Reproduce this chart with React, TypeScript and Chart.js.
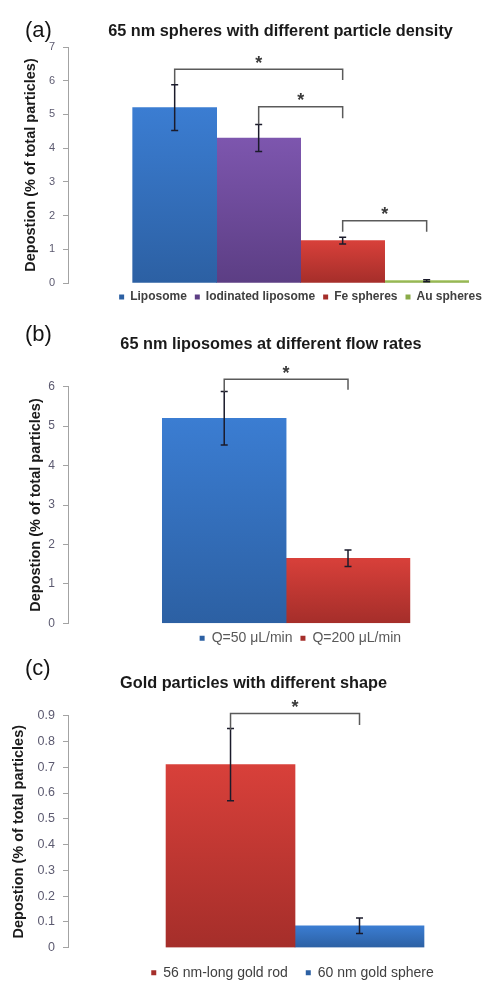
import React, { useEffect, useRef } from 'react';
import { Chart, registerables } from 'chart.js';

Chart.register(...registerables);
Chart.defaults.font.family = "'Liberation Sans', Arial, sans-serif";

// ---------- Panel (a) data ----------
const aLabels = ['Liposome', 'Iodinated liposome', 'Fe spheres', 'Au spheres'];
const aValues = [5.2, 4.3, 1.26, 0.07];
const aErrors = [0.68, 0.4, 0.1, 0.03];
// [fromBar, toBar, bracketTop, leftEnd, rightEnd]
const aBrackets = [
  [0, 2, 6.34, 5.9, 6.02],
  [1, 2, 5.23, 4.71, 4.89],
  [2, 3, 1.85, 1.52, 1.52],
];
const aYMax = 7;
const aYStep = 1;

// ---------- Panel (b) data ----------
const bLabels = ['Q=50 μL/min', 'Q=200 μL/min'];
const bValues = [5.2, 1.65];
const bErrors = [0.68, 0.21];
const bBrackets = [[0, 1, 6.19, 5.87, 5.92]];
const bYMax = 6;
const bYStep = 1;

// ---------- Panel (c) data ----------
const cLabels = ['56 nm-long gold rod', '60 nm gold sphere'];
const cValues = [0.71, 0.085];
const cErrors = [0.14, 0.03];
const cBrackets = [[0, 1, 0.909, 0.845, 0.864]];
const cYMax = 0.9;
const cYStep = 0.1;

const yAxisTitle = 'Depostion (% of total particles)';

// colours: [top, bottom, legend]
const BLUE = ['#3b7dd2', '#2c60a3', '#3a70c0'];
const PURPLE = ['#7d56ae', '#5c3e84', '#6e4a9c'];
const RED = ['#d8403a', '#a52e2a', '#c83a35'];
const GREEN = ['#9fc05a', '#8aab48', '#9bbb59'];

const CANVAS_W = 540;

const PANELS: any[] = [
  {
    tag: '(a)', title: '65 nm spheres with different particle density',
    labels: aLabels, values: aValues, errors: aErrors, brackets: aBrackets,
    yMax: aYMax, yStep: aYStep, colors: [BLUE, PURPLE, RED, GREEN],
    top: 0, height: 313, padTop: 47, padBottom: 0, padRight: 7,
    xMin: -1.27, xMax: 4.266,
    titleX: 280.5, titleY: 32, tagY: 31,
    tickSize: 11, legendFont: { size: 12, weight: 'bold' }, legendColor: '#404040', legendPad: 8,
    yTitlePad: 22.3,
  },
  {
    tag: '(b)', title: '65 nm liposomes at different flow rates',
    labels: bLabels, values: bValues, errors: bErrors, brackets: bBrackets,
    yMax: bYMax, yStep: bYStep, colors: [BLUE, RED],
    top: 313, height: 343, padTop: 73.7, padBottom: 0.7, padRight: 7.3,
    xMin: -1.262, xMax: 2.492,
    titleX: 271, titleY: 32, tagY: 22,
    tickSize: 12, legendFont: { size: 14, weight: 'normal' }, legendColor: '#595959', legendPad: 8,
    yTitlePad: 27.3,
  },
  {
    tag: '(c)', title: 'Gold particles with different shape',
    labels: cLabels, values: cValues, errors: cErrors, brackets: cBrackets,
    yMax: cYMax, yStep: cYStep, colors: [RED, BLUE],
    top: 656, height: 334, padTop: 59.7, padBottom: 0.3, padRight: 23,
    xMin: -1.26, xMax: 2.221,
    titleX: 253.5, titleY: 27.5, tagY: 13,
    tickSize: 12.5, legendFont: { size: 14, weight: 'normal' }, legendColor: '#404040', legendPad: 18,
    yTitlePad: 10.3,
  },
];

function PanelChart({ p }: { p: any }) {
  const ref = useRef<HTMLCanvasElement>(null);

  useEffect(() => {
    const canvas = ref.current;
    if (!canvas) return;

    const datasets = p.labels.map((label: string, i: number) => ({
      label,
      data: [{ x: i, y: p.values[i] }],
      backgroundColor: (ctx: any) => {
        const [c0, c1, cl] = p.colors[i];
        const chart = ctx.chart;
        const area = chart.chartArea;
        if (ctx.type !== 'data' || !area || !ctx.parsed) return cl;
        const ys = chart.scales.y;
        const yTop = ys.getPixelForValue(ctx.parsed.y);
        const g = chart.ctx.createLinearGradient(0, yTop, 0, area.bottom);
        g.addColorStop(0, c0);
        g.addColorStop(1, c1);
        return g;
      },
      borderWidth: 0,
      grouped: false,
      barPercentage: 1,
      categoryPercentage: 1,
    }));

    const overlay = {
      id: 'overlay',
      afterDatasetsDraw(chart: any) {
        const ctx = chart.ctx;
        const ys = chart.scales.y;
        ctx.save();
        // error bars
        p.values.forEach((v: number, i: number) => {
          const bar = chart.getDatasetMeta(i).data[0];
          if (!bar) return;
          const x = bar.x;
          const yt = ys.getPixelForValue(v + p.errors[i]);
          const yb = ys.getPixelForValue(Math.max(0, v - p.errors[i]));
          ctx.strokeStyle = '#1b1b2b';
          ctx.lineWidth = 1.5;
          ctx.beginPath();
          ctx.moveTo(x, yt); ctx.lineTo(x, yb);
          ctx.moveTo(x - 3.5, yt); ctx.lineTo(x + 3.5, yt);
          ctx.moveTo(x - 3.5, yb); ctx.lineTo(x + 3.5, yb);
          ctx.stroke();
        });
        // significance brackets
        p.brackets.forEach((b: number[]) => {
          const [i0, i1, top, le, re] = b;
          const x0 = chart.getDatasetMeta(i0).data[0].x;
          const x1 = chart.getDatasetMeta(i1).data[0].x;
          const yt = ys.getPixelForValue(top);
          const yl = ys.getPixelForValue(le);
          const yr = ys.getPixelForValue(re);
          ctx.strokeStyle = '#5a5a5a';
          ctx.lineWidth = 1.5;
          ctx.beginPath();
          ctx.moveTo(x0, yl);
          ctx.lineTo(x0, yt);
          ctx.lineTo(x1, yt);
          ctx.lineTo(x1, yr);
          ctx.stroke();
          ctx.font = "bold 18px 'Liberation Sans', Arial, sans-serif";
          ctx.fillStyle = '#3a3a3a';
          ctx.textAlign = 'center';
          ctx.textBaseline = 'alphabetic';
          const m = ctx.measureText('*');
          const cy = yt - 10;
          const base = cy + (m.actualBoundingBoxAscent - m.actualBoundingBoxDescent) / 2;
          ctx.fillText('*', (x0 + x1) / 2, base);
        });
        ctx.restore();
      },
      afterDraw(chart: any) {
        const ctx = chart.ctx;
        ctx.save();
        ctx.fillStyle = '#141414';
        ctx.textBaseline = 'middle';
        ctx.textAlign = 'left';
        ctx.font = "22px 'Liberation Sans', Arial, sans-serif";
        ctx.fillText(p.tag, 25, p.tagY);
        ctx.textAlign = 'center';
        ctx.font = "bold 16.3px 'Liberation Sans', Arial, sans-serif";
        ctx.fillStyle = '#1a1a1a';
        ctx.fillText(p.title, p.titleX, p.titleY);
        ctx.restore();
      },
    };

    const chart = new Chart(canvas, {
      type: 'bar',
      data: { datasets },
      options: {
        animation: false,
        responsive: false,
        devicePixelRatio: 1,
        layout: { padding: { top: p.padTop, bottom: p.padBottom, left: 0, right: p.padRight } },
        scales: {
          x: {
            type: 'linear',
            display: false,
            min: p.xMin,
            max: p.xMax,
            offset: false,
            ticks: { stepSize: 1, includeBounds: false },
            grid: { display: false },
          },
          y: {
            min: 0,
            max: p.yMax,
            afterFit: (scale: any) => { scale.width = 68; },
            ticks: {
              stepSize: p.yStep,
              padding: 8,
              color: '#5c5a70',
              font: { size: p.tickSize },
            },
            grid: {
              display: true,
              drawOnChartArea: false,
              drawTicks: true,
              tickLength: 5,
              color: '#a3a3a3',
              tickColor: '#a3a3a3',
            },
            border: { display: true, color: '#a3a3a3', width: 1 },
            title: {
              display: true,
              text: yAxisTitle,
              color: '#1a1a1a',
              font: { size: 14.5, weight: 'bold' },
              padding: { top: p.yTitlePad, bottom: 0 },
            },
          },
        },
        plugins: {
          title: { display: false },
          tooltip: { enabled: false },
          legend: {
            display: true,
            position: 'bottom',
            fullSize: false,
            align: 'center',
            labels: {
              boxWidth: 5,
              boxHeight: 5,
              padding: p.legendPad,
              color: p.legendColor,
              font: p.legendFont,
            },
          },
        },
      },
      plugins: [overlay],
    } as any);

    return () => chart.destroy();
  }, [p]);

  return (
    <canvas
      ref={ref}
      width={CANVAS_W}
      height={p.height}
      style={{ position: 'absolute', left: 0, top: p.top, width: CANVAS_W, height: p.height }}
    />
  );
}

export default function App() {
  return (
    <div
      style={{
        position: 'fixed',
        left: 0,
        top: 0,
        width: 498,
        height: 990,
        overflow: 'hidden',
        background: '#ffffff',
      }}
    >
      {PANELS.map((p, i) => (
        <PanelChart key={i} p={p} />
      ))}
    </div>
  );
}
